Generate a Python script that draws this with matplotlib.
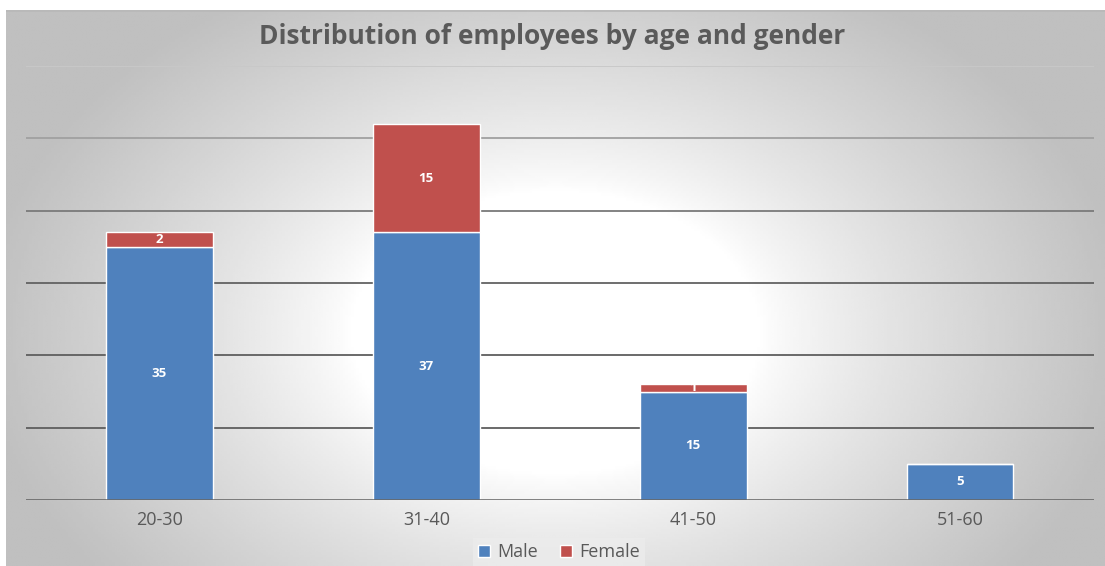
import matplotlib.pyplot as plt
import numpy as np

plt.rcParams['font.family'] = ['Open Sans', 'DejaVu Sans']

# data
age_groups = ['20-30', '31-40', '41-50', '51-60']
male = [35, 37, 15, 5]
female = [2, 15, 1, 0]

W, H = 1105, 566
fig = plt.figure(figsize=(W / 100, H / 100), dpi=100)
fig.patch.set_facecolor('white')

# background panel with a radial white-to-grey gradient
px0, px1, py0, py1 = 6, 1105, 10, 566
bg = fig.add_axes([px0 / W, 1 - py1 / H, (px1 - px0) / W, (py1 - py0) / H])
gx, gy = np.meshgrid(np.linspace(0, 1, 400), np.linspace(0, 1, 220))
d = np.sqrt(((gx - 0.50) / 0.62) ** 2 + ((gy - 0.58) / 0.85) ** 2)
t = np.clip((d - 0.30) / 0.55, 0, 1) ** 0.8
grey = 1.0 - 0.25 * t
bg.imshow(grey, cmap='gray', vmin=0, vmax=1, aspect='auto',
          extent=[0, 1, 0, 1], origin='upper', interpolation='bilinear')
bg.axhline(0.998, color='#b8b8b8', lw=1.2)
bg.set_axis_off()

# plot area
ax = fig.add_axes([26 / W, 1 - 500 / H, (1093.5 - 26) / W, (500 - 66) / H])
ax.set_facecolor('none')
x = np.arange(len(age_groups))
width = 0.4

grid_levels = [10, 20, 30, 40, 50, 60]
grid_colors = ['#5e5e5e', '#5e5e5e', '#626262', '#7a7a7a', '#a0a0a0', '#c8c8c8']
for lvl, c in zip(grid_levels, grid_colors):
    ax.axhline(lvl, color=c, lw=1.3, zorder=1)
ax.axhline(0, color='#5e5e5e', lw=1.8, zorder=3)

b1 = ax.bar(x, male, width, color='#4F81BD', edgecolor='white', lw=1,
            label='Male', zorder=2)
b2 = ax.bar(x, female, width, bottom=male, color='#C0504D', edgecolor='white',
            lw=1, label='Female', zorder=2)

for i in range(len(age_groups)):
    ax.text(x[i], male[i] / 2, str(male[i]), ha='center', va='center',
            color='white', fontsize=9.5, fontweight='bold', zorder=4)
    if female[i] > 0:
        ax.text(x[i], male[i] + female[i] / 2, str(female[i]), ha='center',
                va='center', color='white', fontsize=9.5, fontweight='bold',
                zorder=4)

ax.set_xlim(-0.5, len(age_groups) - 0.5)
ax.set_ylim(0, 60)
ax.set_xticks(x)
ax.set_xticklabels(age_groups, fontsize=13, color='#595959')
ax.tick_params(axis='x', length=0, pad=8)
ax.set_yticks([])
for s in ax.spines.values():
    s.set_visible(False)

fig.text(0.5, 1 - 36 / H, 'Distribution of employees by age and gender',
         ha='center', va='center', fontsize=19, fontweight='bold',
         color='#5a5a5a')

leg = fig.legend(handles=[b1, b2], loc='center', bbox_to_anchor=(559 / W, 1 - 552 / H),
                 ncol=2, frameon=True, fontsize=13, handlelength=0.65,
                 handleheight=0.65, handletextpad=0.4, columnspacing=1.2,
                 borderpad=0.3, fancybox=False)
leg.get_frame().set_facecolor('#ececec')
leg.get_frame().set_edgecolor('none')
leg.get_frame().set_alpha(0.8)
for txt in leg.get_texts():
    txt.set_color('#595959')

fig.savefig('out.png', dpi=100)
